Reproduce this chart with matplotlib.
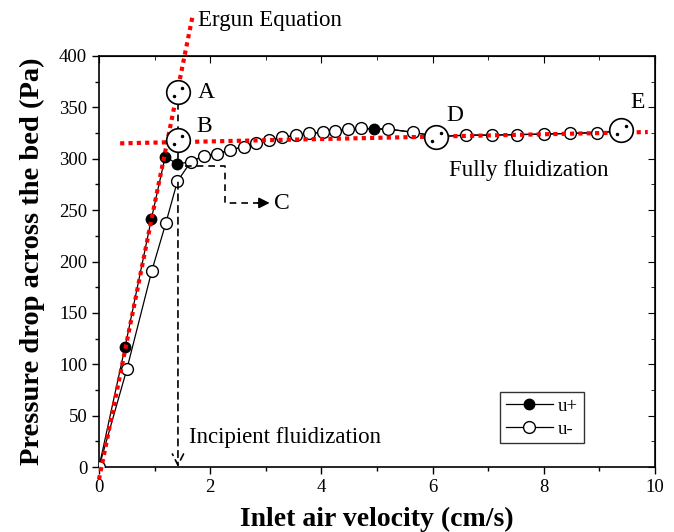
import matplotlib
matplotlib.use("Agg")
import matplotlib.pyplot as plt
import numpy as np

plt.rcParams['font.family'] = ['Liberation Serif', 'DejaVu Serif']
plt.rcParams['mathtext.fontset'] = 'stix'

# Data
u_plus_x = [0.0, 0.47, 0.94, 1.19, 1.41, 1.65, 1.89, 2.13, 2.36, 2.60, 2.82, 3.06, 3.30, 3.54,
            3.78, 4.02, 4.24, 4.48, 4.71, 4.95, 5.19, 5.65, 6.10, 6.60, 7.06, 7.52, 8.00, 8.48, 8.95, 9.40]
u_plus_y = [0, 117, 241, 302, 295, 297, 303, 305, 308.5, 311.7, 315, 318, 321, 322.7,
            324.7, 325.7, 327.3, 329, 329.6, 328.6, 329, 325.7, 321.5, 323, 323, 323.5, 324, 324.7, 325.4, 327]
u_minus_x = [0.0, 0.50, 0.95, 1.20, 1.41, 1.65, 1.89, 2.13, 2.36, 2.60, 2.82, 3.06, 3.30, 3.54,
             3.78, 4.02, 4.24, 4.48, 4.71, 5.19, 5.65, 6.10, 6.60, 7.06, 7.52, 8.00, 8.48, 8.95, 9.40]
u_minus_y = [0, 95, 191, 237, 278, 297, 303, 305, 308.5, 311.7, 315, 318, 321, 322.7,
             324.7, 325.7, 327.3, 329, 329.6, 329, 325.7, 321.5, 323, 323, 323.5, 324, 324.7, 325.4, 327]
ergun_x = [0.0, 1.68]
ergun_y = [-12, 438]
plateau_x = [0.38, 9.87]
plateau_y = [315, 326]
marks_label = ['A', 'B', 'D', 'E']
marks_x = [1.42, 1.42, 6.07, 9.39]
marks_y = [365, 318, 321.5, 328]
marks_text_x = [1.78, 1.75, 6.25, 9.55]
marks_text_y = [364, 331, 342, 355]
xticks = [0, 2, 4, 6, 8, 10]
yticks = [0, 50, 100, 150, 200, 250, 300, 350, 400]

fig = plt.figure(figsize=(6.74, 5.32), dpi=100)
ax = fig.add_axes([99/674, 1-467/532, (655-99)/674, (467-56)/532])
ax.set_xlim(0, 10)
ax.set_ylim(0, 400)

ax.plot(u_plus_x, u_plus_y, color='black', lw=0.9, marker='o', ms=7.5,
        mfc='black', mec='black', zorder=3, label='u+')
ax.plot(u_minus_x, u_minus_y, color='black', lw=0.9, marker='o', ms=8.5,
        mfc='white', mec='black', mew=1.0, zorder=4, label='u-')

ax.plot(ergun_x, ergun_y, color='red', lw=3, ls=(0, (1, 1)), dash_capstyle='butt',
        zorder=5, clip_on=False)
ax.plot(plateau_x, plateau_y, color='red', lw=3, ls=(0, (1, 1)), dash_capstyle='butt',
        zorder=5, clip_on=False)

# annotation circles
for lab, x, y, tx, ty in zip(marks_label, marks_x, marks_y, marks_text_x, marks_text_y):
    ax.plot([x], [y], marker='o', ms=17, mfc='white', mec='black', mew=1.2, zorder=6,
            clip_on=False)
    ax.plot([x + 0.08, x - 0.08], [y + 4, y - 4], ls='none', marker='o', ms=1.5,
            color='black', zorder=7)
    ax.text(tx, ty, lab, fontsize=17, va='center', ha='left')

# dashed connectors between A, B and point
ax.plot([1.42, 1.42], [354, 330], color='black', lw=1.2, ls=(0, (4, 3)), zorder=5)
ax.plot([1.42, 1.42], [306, 296], color='black', lw=1.2, ls=(0, (4, 3)), zorder=5)
# incipient arrow
ax.annotate('', xy=(1.42, 0), xytext=(1.42, 277),
            arrowprops=dict(arrowstyle='->', color='black', lw=1.2, ls=(0, (4, 3)),
                            mutation_scale=20, shrinkA=0, shrinkB=0), zorder=5)
# C path
ax.plot([1.55, 2.27, 2.27, 2.9], [293, 293, 257, 257], color='black', lw=1.2,
        ls=(0, (4, 3)), zorder=5)
ax.annotate('', xy=(3.07, 257), xytext=(2.85, 257),
            arrowprops=dict(arrowstyle='-|>', color='black', lw=1.2, mutation_scale=16,
                            shrinkA=0, shrinkB=0))
ax.text(3.15, 256, 'C', fontsize=17, va='center', ha='left')

ax.text(1.78, 435, 'Ergun Equation', fontsize=16.5, va='center', ha='left')
ax.text(6.3, 289, 'Fully fluidization', fontsize=16.5, va='center', ha='left')
ax.text(1.62, 29, 'Incipient fluidization', fontsize=16.5, va='center', ha='left')

ax.set_xticks(xticks)
ax.set_yticks(yticks)
ax.set_xticks(np.arange(0, 10.01, 1), minor=True)
ax.set_yticks(np.arange(0, 401, 25), minor=True)
ax.tick_params(which='major', direction='out', length=5, width=1.0, labelsize=13.5)
ax.tick_params(which='minor', direction='out', length=3, width=1.0)
for s in ax.spines.values():
    s.set_linewidth(1.2)

top = ax.secondary_xaxis('top')
top.set_xticks(xticks)
top.set_xticks(np.arange(0, 10.01, 1), minor=True)
top.tick_params(which='major', direction='in', length=5, labeltop=False)
top.tick_params(which='minor', direction='in', length=3)
right = ax.secondary_yaxis('right')
right.set_yticks(yticks)
right.set_yticks(np.arange(0, 401, 25), minor=True)
right.tick_params(which='major', direction='in', length=5, labelright=False)
right.tick_params(which='minor', direction='in', length=3)

ax.set_xlabel('Inlet air velocity (cm/s)', fontsize=20, fontweight='bold', labelpad=8)
ax.set_ylabel('Pressure drop across the bed (Pa)', fontsize=20.5, fontweight='bold', labelpad=10)

leg = ax.legend(loc='upper left', bbox_to_anchor=((500-99)/556, (467-392)/411),
                frameon=True, fancybox=False, edgecolor='black', fontsize=13.5,
                handlelength=2.5, borderpad=0.3, labelspacing=0.3, handletextpad=0.3,
                borderaxespad=0)
leg.get_frame().set_linewidth(1.0)

fig.savefig('out.png', dpi=100)
